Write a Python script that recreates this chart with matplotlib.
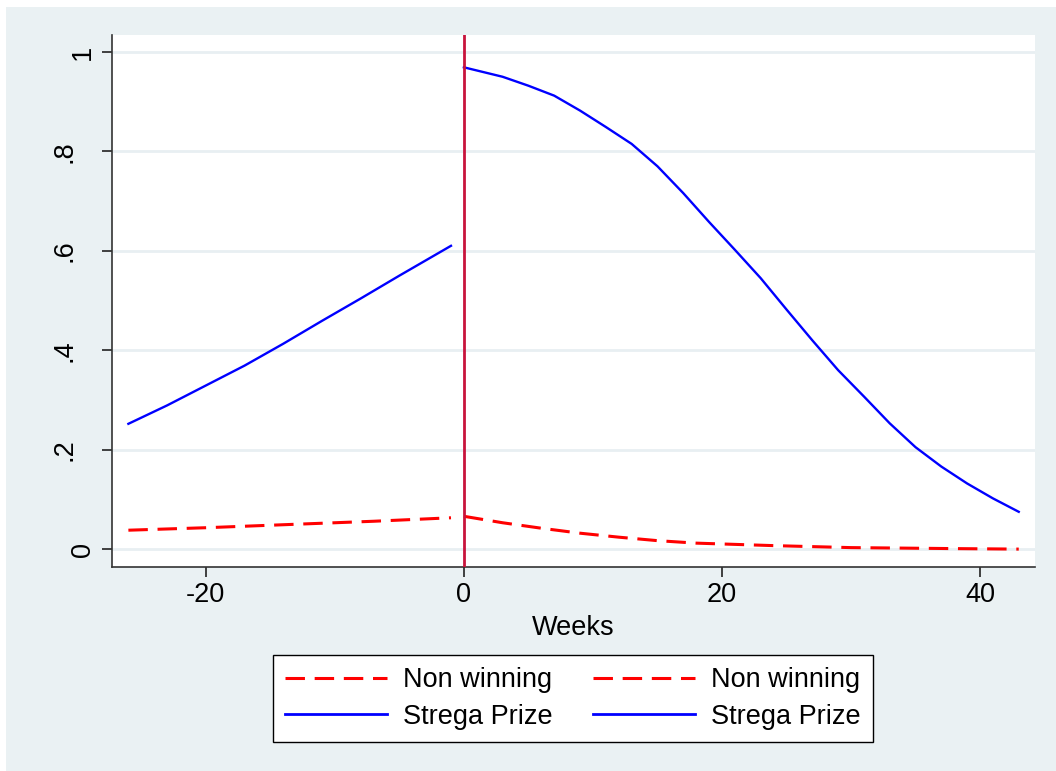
import numpy as np
import matplotlib
matplotlib.use("Agg")
import matplotlib.pyplot as plt
from matplotlib.patches import Rectangle

plt.rcParams['font.family'] = ['Liberation Sans', 'DejaVu Sans']
plt.rcParams['lines.scale_dashes'] = False

# Strega Prize, before and after the prize (weeks)
strega_pre_weeks = [-26, -23, -20, -17, -14, -11, -8, -5, -2, -1]
strega_pre = [0.252, 0.289, 0.329, 0.369, 0.413, 0.459, 0.504, 0.55, 0.595, 0.61]
strega_post_weeks = [0, 3, 5, 7, 9, 11, 13, 15, 17, 19, 21, 23, 25, 27, 29,
                     31, 33, 35, 37, 39, 41, 43]
strega_post = [0.969, 0.95, 0.932, 0.912, 0.882, 0.849, 0.815, 0.77, 0.716, 0.658,
               0.602, 0.545, 0.482, 0.42, 0.36, 0.307, 0.253, 0.205, 0.166, 0.132,
               0.102, 0.075]

# Non winning books
non_pre_weeks = [-26, -20, -13, -7, -1]
non_pre = [0.038, 0.043, 0.050, 0.056, 0.063]
non_post_weeks = [0, 3, 6, 9, 12, 15, 18, 21, 24, 27, 30, 34, 38, 43]
non_post = [0.066, 0.053, 0.042, 0.032, 0.024, 0.017, 0.012, 0.0095, 0.007,
            0.005, 0.003, 0.002, 0.001, 0.0]

y_ticks = [0, 0.2, 0.4, 0.6, 0.8, 1]
y_tick_labels = ['0', '.2', '.4', '.6', '.8', '1']
x_ticks = [-20, 0, 20, 40]

W, H = 1056, 771
fs = 19.5
fig = plt.figure(figsize=(W / 100, H / 100), dpi=100, facecolor='white')
bg = '#eaf1f3'
fig.patches.append(Rectangle((6 / W, 0), 1 - 6 / W, 1 - 7 / H, transform=fig.transFigure,
                             facecolor=bg, edgecolor='none', zorder=-10))

ax_left, ax_right = 112, 1035
ax = fig.add_axes([ax_left / W, 1 - 567 / H, (ax_right - ax_left) / W, (567 - 35) / H])
ax.set_facecolor('white')

red_dash = (0, (14, 7))
ax.plot(non_pre_weeks, non_pre, color='#ff0000', lw=2.2, linestyle=red_dash, zorder=3)
ax.plot(strega_pre_weeks, strega_pre, color='#0000ff', lw=1.7, zorder=3)
ax.plot(non_post_weeks, non_post, color='#ff0000', lw=2.2, linestyle=red_dash, zorder=3)
ax.plot(strega_post_weeks, strega_post, color='#0000ff', lw=1.7, zorder=3)
ax.axvline(0, color='#c8143c', lw=2.0, zorder=4)

ax.set_xlim(-27.27, 44.26)
ax.set_ylim(-0.036, 1.034)
ax.set_xticks(x_ticks)
ax.set_xticklabels([str(v) for v in x_ticks])
ax.set_yticks(y_ticks)
ax.set_yticklabels([])
ax.grid(axis='y', color='#e8eff2', lw=2.0, zorder=1)
ax.set_axisbelow(True)

# rotated y labels, placed the way the original places them
for v, lab in zip(y_ticks, y_tick_labels):
    base_px = 71 if lab.startswith('.') else 90
    ax.text((base_px - ax_left) / (ax_right - ax_left), v, lab,
            transform=ax.get_yaxis_transform(), rotation=90, rotation_mode='anchor',
            ha='center', va='baseline', fontsize=fs, clip_on=False)

for s in ['top', 'right']:
    ax.spines[s].set_visible(False)
for s in ['left', 'bottom']:
    ax.spines[s].set_color('#333333')
    ax.spines[s].set_linewidth(1.2)
ax.tick_params(axis='both', length=7.5, width=1.2, color='#222222', labelsize=fs)
ax.tick_params(axis='x', pad=3)
ax.set_xlabel('Weeks', fontsize=fs, labelpad=5)

h_red = plt.Line2D([], [], color='#ff0000', lw=2.2, linestyle=red_dash)
h_blue = plt.Line2D([], [], color='#0000ff', lw=2.0)
leg = fig.legend([h_red, h_blue, h_red, h_blue],
                 ['Non winning', 'Strega Prize', 'Non winning', 'Strega Prize'],
                 ncol=2, loc='center', bbox_to_anchor=(573 / W, 1 - 698.5 / H),
                 fontsize=fs, frameon=True, fancybox=False, handlelength=3.75,
                 handletextpad=0.6, columnspacing=1.5, labelspacing=0.4,
                 borderpad=0.45, framealpha=1)
leg.get_frame().set_edgecolor('black')
leg.get_frame().set_facecolor('white')
leg.get_frame().set_linewidth(1.0)

fig.savefig('out.png', dpi=100, facecolor=fig.get_facecolor())
